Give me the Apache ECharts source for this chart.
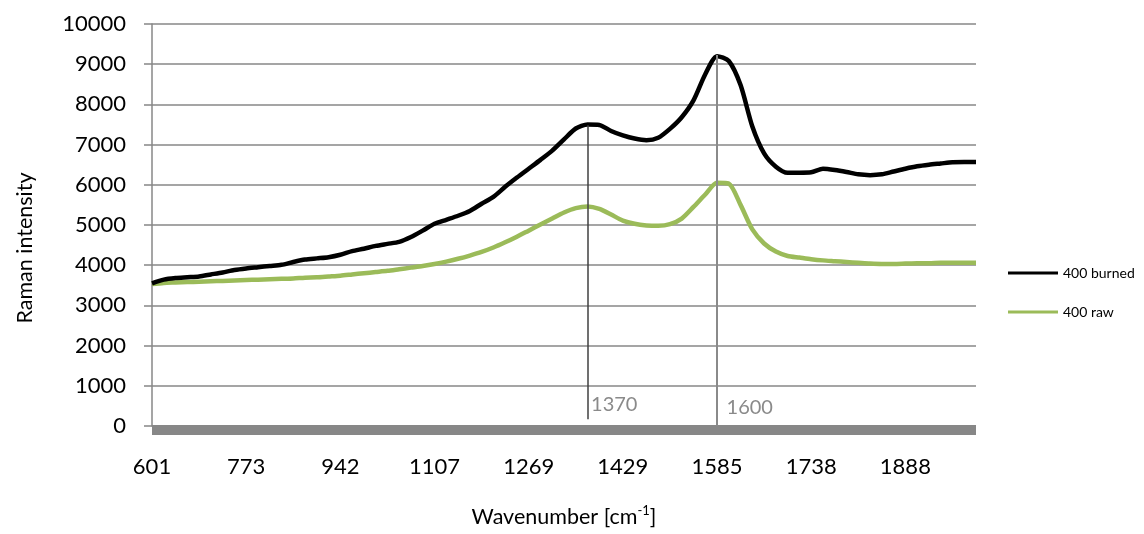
<!DOCTYPE html>
<html>
<head>
<meta charset="utf-8">
<script src="https://cdn.jsdelivr.net/npm/echarts@6/dist/echarts.min.js"></script>
<style>
html,body{margin:0;padding:0;background:#fff;}
#c{width:1144px;height:534px;}
</style>
</head>
<body>
<div id="c"></div>
<script>
// Wavenumber categories (cm-1), labels shown every 8th
const wavenumbers = [
  601, 623, 644, 666, 687, 709, 730, 752, 773,
  794, 815, 836, 857, 878, 900, 921, 942,
  963, 983, 1004, 1024, 1045, 1066, 1086, 1107,
  1127, 1148, 1168, 1188, 1208, 1229, 1249, 1269,
  1289, 1309, 1329, 1349, 1370, 1389, 1409, 1429,
  1449, 1468, 1488, 1507, 1527, 1546, 1566, 1585,
  1604, 1623, 1642, 1662, 1681, 1700, 1719, 1738,
  1757, 1776, 1794, 1813, 1832, 1851, 1869, 1888,
  1906, 1925, 1943, 1962, 1980, 1999
];
const burned400 = [
  3550, 3640, 3680, 3700, 3720, 3770, 3820, 3880, 3920,
  3950, 3980, 4010, 4080, 4140, 4170, 4200, 4260,
  4350, 4410, 4480, 4530, 4580, 4700, 4860, 5030,
  5130, 5230, 5350, 5530, 5700, 5950, 6180, 6400,
  6620, 6850, 7130, 7400, 7500, 7490, 7340, 7230,
  7150, 7110, 7170, 7390, 7680, 8100, 8750, 9200,
  9080, 8480, 7450, 6780, 6450, 6300, 6300, 6310,
  6400, 6370, 6320, 6260, 6240, 6260, 6330, 6400,
  6460, 6500, 6530, 6560, 6570, 6570
];
const raw400 = [
  3530, 3560, 3570, 3580, 3590, 3600, 3610, 3620, 3630,
  3640, 3650, 3660, 3670, 3690, 3700, 3720, 3740,
  3770, 3800, 3830, 3860, 3900, 3940, 3980, 4030,
  4090, 4160, 4240, 4330, 4440, 4570, 4710, 4860,
  5010, 5160, 5310, 5420, 5460, 5400, 5260, 5110,
  5030, 4990, 4980, 5020, 5160, 5450, 5760, 6050,
  6030, 5500, 4890, 4540, 4340, 4230, 4190, 4150,
  4120, 4100, 4080, 4060, 4040, 4030, 4030, 4040,
  4050, 4050, 4060, 4060, 4060, 4060
];
const seriesNames = ['400 burned', '400 raw'];
// Peak marker lines
const peakCats = ['1370', '1585'];
const peakLabels = ['1370', '1600'];
const peakBottoms = [170, 0];
const peakTops = [7480, 9230];
const peakLabelY = [530, 450];

const FONT = 'Lato';
const GRAY = '#878787';
const cats = wavenumbers.map(String);

const chart = echarts.init(document.getElementById('c'), null, {renderer: 'canvas'});
chart.setOption({
  animation: false,
  backgroundColor: '#fff',
  textStyle: {fontFamily: FONT},
  grid: {left: 152, right: 168, top: 24, bottom: 108},
  legend: {
    orient: 'vertical', left: 1003, top: 261,
    itemWidth: 50, itemHeight: 3, itemGap: 25, icon: 'rect',
    textStyle: {fontSize: 14, fontFamily: FONT, color: '#000'},
    data: seriesNames
  },
  xAxis: [{
    type: 'category', data: cats, boundaryGap: false,
    axisLine: {show: true, lineStyle: {color: GRAY, width: 2, cap: 'butt'}},
    axisTick: {show: false},
    axisLabel: {interval: 7, fontSize: 22, margin: 30, color: '#000', fontFamily: FONT},
    splitLine: {show: false},
    name: '{a|Wavenumber [cm}{s|-1}{a|]}',
    nameLocation: 'middle', nameGap: 78,
    nameTextStyle: {
      rich: {
        a: {fontSize: 21.5, fontFamily: FONT, color: '#000', lineHeight: 26},
        s: {fontSize: 13, fontFamily: FONT, color: '#000', verticalAlign: 'top', lineHeight: 26}
      }
    }
  }, {
    type: 'category', data: cats, boundaryGap: false, position: 'bottom', offset: 4.5,
    axisLine: {show: true, lineStyle: {color: GRAY, width: 9, cap: 'butt'}},
    axisTick: {show: false}, axisLabel: {show: false}, splitLine: {show: false}
  }],
  yAxis: {
    type: 'value', min: 0, max: 10000, interval: 1000,
    axisLine: {show: true, lineStyle: {color: GRAY, width: 1.5}},
    axisTick: {show: true, length: 8, lineStyle: {color: GRAY, width: 1.5}},
    splitLine: {show: true, lineStyle: {color: GRAY, width: 1.5}},
    axisLabel: {fontSize: 22, margin: 26, color: '#000', fontFamily: FONT, formatter: v => String(v)},
    name: 'Raman intensity', nameLocation: 'middle', nameGap: 116,
    nameTextStyle: {fontSize: 21.5, fontFamily: FONT, color: '#000', padding: [0, 46, 0, 0]}
  },
  series: [{
    name: seriesNames[1], type: 'line', data: raw400, showSymbol: false, smooth: 0.25,
    lineStyle: {color: '#9BBB59', width: 4.5}, itemStyle: {color: '#9BBB59'}, z: 2
  }, {
    name: seriesNames[0], type: 'line', data: burned400, showSymbol: false, smooth: 0.25,
    lineStyle: {color: '#000', width: 4.5}, itemStyle: {color: '#000'}, z: 3,
    markLine: {
      silent: true, symbol: ['none', 'none'], label: {show: false},
      data: peakCats.map((c, i) => [
        {coord: [c, peakBottoms[i]], lineStyle: {color: i === 0 ? '#404040' : '#8a8a8a', width: i === 0 ? 1.5 : 2, type: 'solid'}},
        {coord: [c, peakTops[i]]}
      ])
    },
    markPoint: {
      silent: true, symbol: 'circle', symbolSize: 1,
      itemStyle: {color: 'rgba(0,0,0,0)'},
      label: {show: true, position: 'right', fontSize: 20, fontFamily: FONT, color: '#8a8a8a',
        formatter: p => p.name},
      data: peakCats.map((c, i) => ({name: peakLabels[i], coord: [c, peakLabelY[i]],
        label: {distance: i === 0 ? 3 : 9}}))
    }
  }]
});
</script>
</body>
</html>
